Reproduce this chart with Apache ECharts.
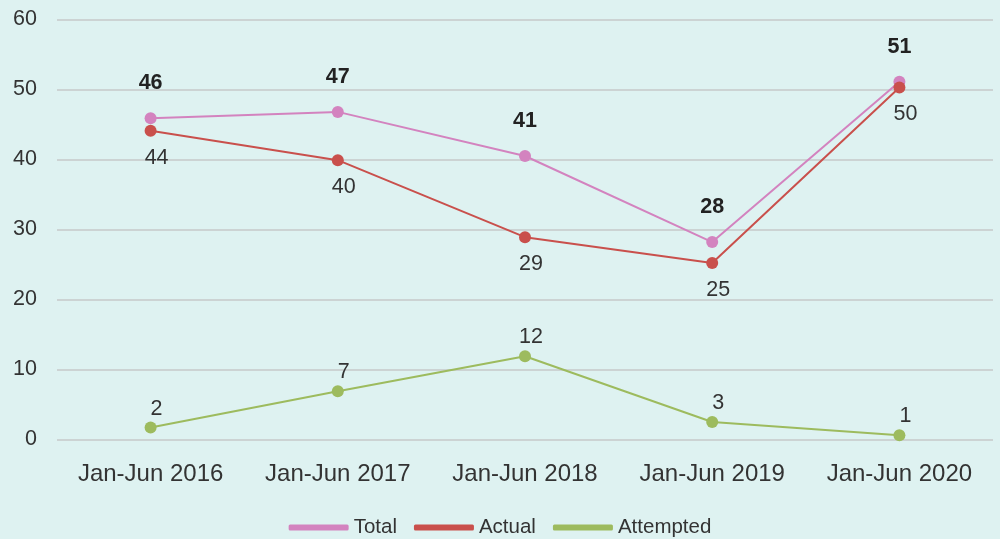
<!DOCTYPE html>
<html><head><meta charset="utf-8">
<script src="https://cdn.jsdelivr.net/npm/echarts@6/dist/echarts.min.js"></script>
<style>html,body{margin:0;padding:0;background:#def2f1}#c{width:1000px;height:539px}</style>
</head><body><div id="c"></div>
<script>
const categories = ['Jan-Jun 2016','Jan-Jun 2017','Jan-Jun 2018','Jan-Jun 2019','Jan-Jun 2020'];
const totalValues = [45.9, 46.8, 40.5, 28.2, 51.1];
const actualValues = [44.1, 39.9, 28.9, 25.2, 50.3];
const attemptedValues = [1.7, 6.9, 11.9, 2.5, 0.6];
const yTicks = [0, 10, 20, 30, 40, 50, 60];

const font = 'Liberation Sans, Arial, Helvetica, sans-serif';
const chart = echarts.init(document.getElementById('c'), null, {renderer:'canvas'});
const fmt = p => String(Math.round(p.value));
chart.setOption({
  backgroundColor: '#def2f1',
  animation: false,
  textStyle: {fontFamily: font},
  grid: {left: 57, right: 7, top: 19.5, bottom: 99.5},
  legend: {
    bottom: -4, left: 'center', itemWidth: 60, itemHeight: 6, itemGap: 17,
    icon: 'roundRect',
    textStyle: {fontSize: 20.5, color: '#333', fontFamily: font},
    data: ['Total','Actual','Attempted']
  },
  xAxis: {
    type: 'category', data: categories, boundaryGap: true,
    axisLine: {show: false}, axisTick: {show: false},
    axisLabel: {interval: 0, hideOverlap: false, fontSize: 24, color: '#333', margin: 23, fontFamily: font}
  },
  yAxis: {
    type: 'value', min: yTicks[0], max: yTicks[yTicks.length-1], interval: 10,
    axisLine: {show: false}, axisTick: {show: false},
    axisLabel: {fontSize: 21.5, color: '#333', margin: 20, fontFamily: font},
    splitLine: {lineStyle: {color: '#c6c9c8', width: 1.5}}
  },
  series: [
    {name: 'Total', type: 'line', data: totalValues, symbol: 'circle', symbolSize: 12,
     color: '#d383bf', lineStyle: {width: 2},
     label: {show: true, position: 'top', distance: 18, formatter: fmt,
       fontSize: 21.5, fontWeight: 'bold', color: '#222', fontFamily: font}},
    {name: 'Actual', type: 'line', data: actualValues, symbol: 'circle', symbolSize: 12,
     color: '#c9504c', lineStyle: {width: 2},
     label: {show: true, position: 'bottom', distance: 10, offset: [6, 0], formatter: fmt,
       fontSize: 21.5, color: '#333', fontFamily: font}},
    {name: 'Attempted', type: 'line', data: attemptedValues, symbol: 'circle', symbolSize: 12,
     color: '#9dbb5e', lineStyle: {width: 2},
     label: {show: true, position: 'top', distance: 2, offset: [6, 0], formatter: fmt,
       fontSize: 21.5, color: '#333', fontFamily: font}}
  ]
});
</script></body></html>
